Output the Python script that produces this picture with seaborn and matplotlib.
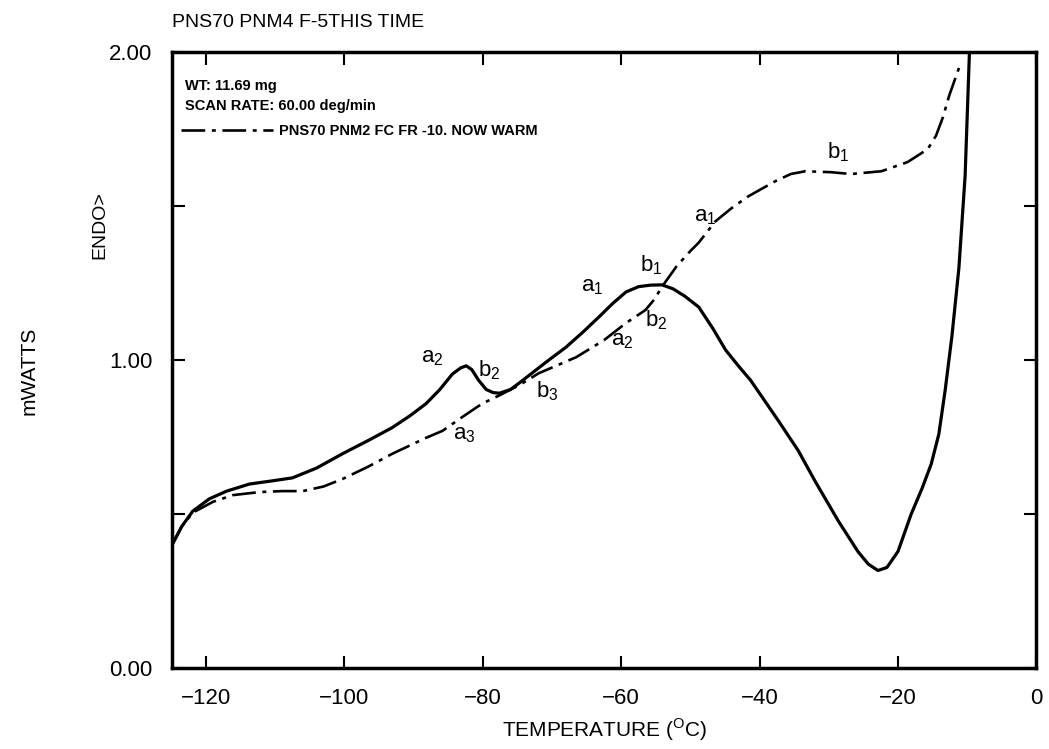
import numpy as np
import pandas as pd
import seaborn as sns
import matplotlib.pyplot as plt

# -----------------------------
# DATA
# -----------------------------
# solid trace: PNS70 PNM4 F-5 (this time)
temp_this = [-124.9, -123.5, -121.9, -119.5, -117.0, -113.7, -110.5, -107.5, -104.0,
             -100.3, -96.5, -93.1, -90.5, -88.2, -86.2, -84.4, -83.2, -82.4, -81.6,
             -80.6, -79.5, -78.5, -77.6, -76.0, -74.5, -72.9, -70.5, -68.0, -65.5,
             -63.2, -61.2, -59.3, -57.5, -55.8, -54.1, -52.5, -50.8, -48.8, -46.8,
             -44.9, -43.0, -41.3, -37.3, -34.4, -32.0, -28.6, -25.8, -24.3, -22.9,
             -21.6, -20.0, -18.1, -16.5, -15.2, -14.1, -13.2, -12.2, -11.2, -10.3,
             -9.6]
mw_this = [0.40, 0.46, 0.51, 0.55, 0.575, 0.598, 0.608, 0.618, 0.650,
           0.696, 0.740, 0.781, 0.820, 0.859, 0.905, 0.955, 0.975, 0.982, 0.970,
           0.935, 0.905, 0.895, 0.893, 0.905, 0.930, 0.958, 1.000, 1.042, 1.092,
           1.141, 1.185, 1.222, 1.239, 1.244, 1.245, 1.232, 1.208, 1.173, 1.105,
           1.033, 0.980, 0.935, 0.804, 0.706, 0.608, 0.477, 0.379, 0.338, 0.317,
           0.327, 0.379, 0.50, 0.585, 0.663, 0.760, 0.900, 1.080, 1.300, 1.600,
           2.05]

# dash-dot trace: PNS70 PNM2 FC FR -10. NOW WARM
temp_warm = [-124.9, -123.5, -121.9, -119.0, -116.1, -112.2, -109.0, -106.0, -103.0,
             -100.3, -96.5, -93.1, -88.2, -85.8, -83.0, -80.1, -77.6, -74.5, -71.9,
             -66.5, -62.5, -59.3, -56.5, -55.2, -54.1, -52.0, -50.0, -48.8, -46.4,
             -44.0, -41.6, -37.7, -35.5, -33.4, -29.7, -26.8, -22.4, -18.6, -15.7,
             -14.5, -13.5, -12.6, -11.1]
mw_warm = [0.40, 0.46, 0.505, 0.540, 0.562, 0.572, 0.575, 0.575, 0.590,
           0.614, 0.655, 0.696, 0.748, 0.771, 0.815, 0.859, 0.886, 0.922, 0.958,
           1.010, 1.065, 1.121, 1.163, 1.198, 1.239, 1.305, 1.355, 1.382, 1.451,
           1.495, 1.533, 1.582, 1.605, 1.614, 1.611, 1.605, 1.614, 1.644, 1.686,
           1.730, 1.790, 1.860, 1.955]

x_ticks = [-120, -100, -80, -60, -40, -20, 0]
x_tick_labels = ['\u2212120', '\u2212100', '\u221280', '\u221260', '\u221240', '\u221220', '0']
y_ticks = [0.0, 0.5, 1.0, 1.5, 2.0]
y_tick_labels = ['0.00', '', '1.00', '', '2.00']

# peak labels: (letter, subscript, x, y)
labels_this = [('a', '2', -87.3, 1.01), ('b', '2', -79.1, 0.967),
               ('a', '1', -64.2, 1.24), ('b', '1', -55.6, 1.31)]
labels_warm = [('a', '3', -82.7, 0.76), ('b', '3', -70.7, 0.90),
               ('a', '2', -59.8, 1.065), ('b', '2', -55.0, 1.13),
               ('a', '1', -47.8, 1.467), ('b', '1', -28.6, 1.676)]

df_this = pd.DataFrame({'temp': temp_this, 'mw': mw_this})
df_warm = pd.DataFrame({'temp': temp_warm, 'mw': mw_warm})

# -----------------------------
# PLOT
# -----------------------------
sns.set_style('ticks')
plt.rcParams['font.family'] = ['Liberation Sans', 'DejaVu Sans']
for key in ['text.color', 'axes.labelcolor', 'xtick.color', 'ytick.color', 'axes.edgecolor']:
    plt.rcParams[key] = 'black'

fig = plt.figure(figsize=(10.49, 7.49), dpi=100)
ax = fig.add_axes([0.164, 0.108, 0.824, 0.822])

sns.lineplot(data=df_this, x='temp', y='mw', ax=ax, color='black',
             linewidth=2.3, sort=False, label='_this')
sns.lineplot(data=df_warm, x='temp', y='mw', ax=ax, color='black',
             linewidth=1.9, sort=False, linestyle=(0, (9, 2.5, 1.5, 2.5)),
             label='PNS70 PNM2 FC FR -10. NOW WARM')

for letter, sub, x, y in labels_this + labels_warm:
    ax.text(x, y, letter + r'$_{\mathregular{' + sub + '}}$', fontsize=16,
            ha='center', va='center')

ax.set_xlim(-124.9, 0)
ax.set_ylim(0, 2.0)
ax.set_xticks(x_ticks)
ax.set_xticklabels(x_tick_labels)
ax.set_yticks(y_ticks)
ax.set_yticklabels(y_tick_labels)
ax.tick_params(direction='in', length=9, width=1.5, labelsize=16,
               top=True, right=True)
ax.tick_params(axis='x', pad=14)
ax.tick_params(axis='y', pad=14)
for s in ax.spines.values():
    s.set_linewidth(2.5)

ax.set_xlabel('TEMPERATURE ($^{\\mathregular{O}}$C)', fontsize=15, labelpad=6)
ax.set_ylabel('')
fig.text(0.028, 0.505, 'mWATTS', rotation=90, fontsize=15, ha='center', va='center')
fig.text(0.095, 0.70, 'ENDO>', rotation=90, fontsize=14, ha='center', va='center')
fig.text(0.164, 0.970, 'PNS70 PNM4 F-5THIS TIME', fontsize=14, ha='left', va='center')

ax.text(0.015, 0.945, 'WT: 11.69 mg', transform=ax.transAxes, fontsize=10.5,
        fontweight='bold', va='center')
ax.text(0.015, 0.913, 'SCAN RATE: 60.00 deg/min', transform=ax.transAxes,
        fontsize=10.5, fontweight='bold', va='center')
ax.legend(loc='upper left', bbox_to_anchor=(-0.005, 0.905), frameon=False,
          handlelength=6.3, handletextpad=0.4, prop={'size': 10.5, 'weight': 'bold'})

fig.savefig('out.png', dpi=100)
